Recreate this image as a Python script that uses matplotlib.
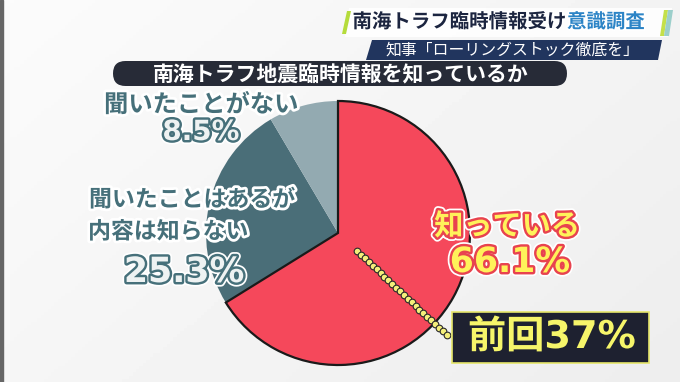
import numpy as np
import matplotlib.pyplot as plt
import matplotlib.patheffects as pe
from matplotlib.patches import Polygon, FancyBboxPatch, Rectangle

plt.rcParams['font.family'] = ['Noto Sans CJK JP', 'DejaVu Sans']

# data
labels = ['知っている', '聞いたことはあるが\n内容は知らない', '聞いたことがない']
values = [66.1, 25.3, 8.5]
colors = ['#F5485B', '#4A6E78', '#93AAB1']
previous = 37

header_main = '南海トラフ臨時情報受け'
header_accent = '意識調査'
subheader = '知事「ローリングストック徹底を」'
title = '南海トラフ地震臨時情報を知っているか'

W, H = 680, 382
def Y(y):
    return H - y

fig = plt.figure(figsize=(6.8, 3.82), dpi=100)
ax = fig.add_axes([0, 0, 1, 1])

# background
gx = np.linspace(0, 1, 200)
gy = np.linspace(0, 1, 120)
GX, GY = np.meshgrid(gx, gy)
bg = 0.985 - 0.055 * (0.6 * GX + 0.4 * GY)
ax.imshow(bg, cmap='gray', vmin=0, vmax=1, extent=[0, W, 0, H],
          origin='upper', zorder=0, aspect='auto')
ax.add_patch(Rectangle((0, 0), 2.5, H, color='#666666', zorder=1))

# pie
cx, cy, R = 338, Y(233), 132
wedges, _ = ax.pie(values, colors=colors, startangle=90, counterclock=False,
                   center=(cx, cy), radius=R)
for w in wedges:
    w.set_zorder(2)
wedges[0].set_edgecolor('#1A1A1A')
wedges[0].set_linewidth(1.6)
wedges[0].set_zorder(3)

# previous result marker (dotted line)
ang = np.deg2rad(90 - previous / 100 * 360)
rr = np.linspace(0.2, 1.13, 24) * R
ax.plot(cx + rr * np.cos(ang), cy + rr * np.sin(ang), linestyle='none',
        marker='o', markersize=4.8, markerfacecolor='#F4EF7A',
        markeredgecolor='#2A2A2A', markeredgewidth=0.8, zorder=4)

# labels
teal = '#46707A'
lab_fx = [pe.withStroke(linewidth=4, foreground='white')]
pct_fx = [pe.Stroke(linewidth=6, foreground='white'),
          pe.Stroke(linewidth=3.5, foreground=teal), pe.Normal()]

ax.text(201, Y(105), labels[2], fontsize=17.5, fontweight='bold', color=teal,
        ha='center', va='center', path_effects=lab_fx, zorder=5)
ax.text(201, Y(132), f'{values[2]}%', fontsize=20, fontweight='bold',
        color='#EEF2F2', ha='center', va='center', path_effects=pct_fx,
        family=['DejaVu Sans'], zorder=5)

line1, line2 = labels[1].split('\n')
ax.text(89, Y(200), line1, fontsize=16.5, fontweight='bold', color=teal,
        ha='left', va='center', path_effects=lab_fx, zorder=5)
ax.text(88, Y(232), line2, fontsize=16.5, fontweight='bold', color=teal,
        ha='left', va='center', path_effects=lab_fx, zorder=5)
ax.text(184, Y(272), f'{values[1]}%', fontsize=25, fontweight='bold',
        color='#EEF2F2', ha='center', va='center', path_effects=pct_fx,
        family=['DejaVu Sans'], zorder=5)

red_fx = [pe.Stroke(linewidth=6, foreground='white'),
          pe.Stroke(linewidth=3.5, foreground='#E8434F'), pe.Normal()]
ax.text(507, Y(226), labels[0], fontsize=21, fontweight='bold',
        color='#FFF25A', ha='center', va='center', path_effects=red_fx, zorder=5)
ax.text(510, Y(262), f'{values[0]}%', fontsize=25, fontweight='bold',
        color='#FFF25A', ha='center', va='center', path_effects=red_fx,
        family=['DejaVu Sans'], zorder=5)

# previous box
ax.add_patch(Rectangle((452, Y(363)), 197, 51, facecolor='#1E2130',
                       edgecolor='#E6E66A', linewidth=1.2, zorder=5))
ax.text(552, Y(338), f'前回{previous}%', fontsize=27.5, fontweight='bold',
        color='#F6F56A', ha='center', va='center',
        family=['DejaVu Sans', 'Noto Sans CJK JP'],
        path_effects=[pe.withStroke(linewidth=1.5, foreground='#1E2130')],
        zorder=6)

# title bar
ax.add_patch(FancyBboxPatch((113, Y(86)), 454, 25,
                            boxstyle='round,pad=0,rounding_size=12.5',
                            facecolor='#272B37', edgecolor='none', zorder=5))
ax.text(341, Y(74), title, fontsize=15, fontweight='bold', color='white',
        ha='center', va='center', zorder=6)

# header banners
ax.add_patch(Polygon([(349, Y(8)), (672, Y(8)), (668, Y(37)), (345, Y(37))],
                     closed=True, facecolor='white', alpha=0.9,
                     edgecolor='none', zorder=6))
ax.add_patch(Polygon([(347, Y(11)), (351, Y(11)), (346, Y(34)), (342, Y(34))],
                     closed=True, facecolor='#B5DC3C', zorder=7))
ax.add_patch(Polygon([(664, Y(10)), (668, Y(10)), (664, Y(36)), (660, Y(36))],
                     closed=True, facecolor='#C4E04A', zorder=7))
ax.add_patch(Polygon([(668, Y(10)), (673, Y(10)), (669, Y(36)), (664, Y(36))],
                     closed=True, facecolor='#9CCFCB', zorder=7))
ax.text(567, Y(22), header_main, fontsize=14, fontweight='bold',
        color='#1C2540', ha='right', va='center',
        path_effects=[pe.withStroke(linewidth=2.5, foreground='white')], zorder=8)
ax.text(567, Y(22), header_accent, fontsize=14, fontweight='bold',
        color='#2C84C6', ha='left', va='center',
        path_effects=[pe.withStroke(linewidth=2.5, foreground='white')], zorder=8)

ax.add_patch(Polygon([(372, Y(40)), (662, Y(40)), (658, Y(60)), (366, Y(60))],
                     closed=True, facecolor='#21355E', edgecolor='none', zorder=6))
ax.text(512, Y(50), subheader, fontsize=11.4, color='white',
        ha='center', va='center', zorder=8)

ax.set_xlim(0, W)
ax.set_ylim(0, H)
ax.set_aspect('auto')
ax.axis('off')

fig.savefig('out.png', dpi=100)
